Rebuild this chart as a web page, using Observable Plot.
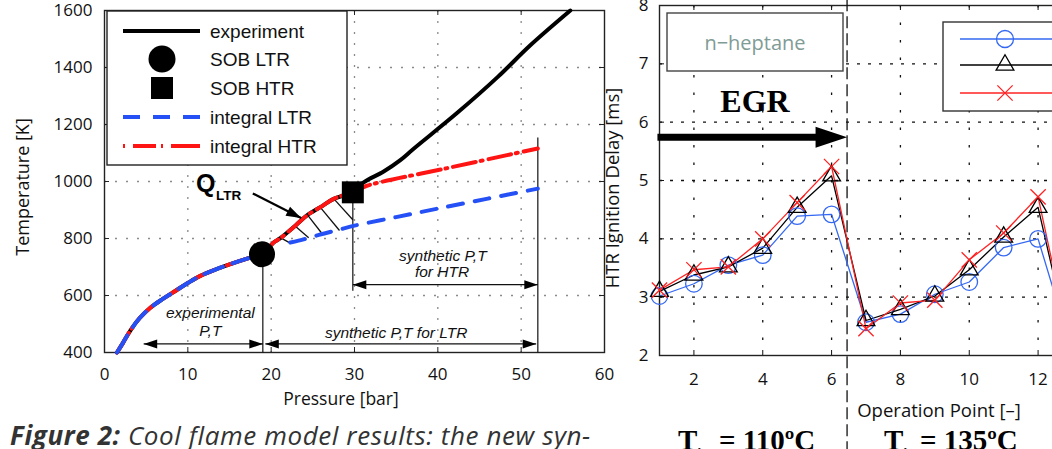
<!DOCTYPE html>
<html><head><meta charset="utf-8">
<script src="https://cdn.jsdelivr.net/npm/d3@7"></script>
<script src="https://cdn.jsdelivr.net/npm/@observablehq/plot@0.6"></script>
<style>
html,body{margin:0;padding:0;background:#fff;}
#root{position:relative;width:1052px;height:449px;overflow:hidden;background:#fff;}
.layer{position:absolute;top:0;}
</style></head>
<body><div id="root"></div>
<script>
// ---------------- LEFT CHART DATA (Pressure [bar] vs Temperature [K]) ----------------
const expPressure    = [1.5, 2.2, 3.1, 4.2, 5.5, 7.0, 8.5, 10.0, 11.5, 13.3, 15.1, 17.3, 18.9, 20.3, 21.1, 22.9, 24.3, 25.9, 27.5, 29.7, 31.1, 33.5, 35.5, 37.1, 42.3, 47.2, 51.1, 55.9];
const expTemperature = [400, 433, 477, 520, 557, 588, 616, 644, 669, 691, 710, 731, 745, 786, 801, 845, 881, 910, 939, 962, 997, 1035, 1075, 1115, 1240, 1367, 1478, 1600];
const ltrEarlyPressure    = [1.5, 2.2, 3.1, 4.2, 5.5, 7.0, 8.5, 10.0, 11.5, 13.3, 15.1, 17.3, 18.9];
const ltrEarlyTemperature = [400, 433, 477, 520, 557, 588, 616, 644, 669, 691, 710, 731, 745];
const ltrBranchPressure    = [22.3, 24.0, 26.0, 28.0, 30.0, 35.0, 40.0, 46.0, 52.0];
const ltrBranchTemperature = [786, 798, 815, 830, 845, 875, 905, 940, 975];
const htrPressure    = [1.5, 2.2, 3.1, 4.2, 5.5, 7.0, 8.5, 10.0, 11.5, 13.3, 15.1, 17.3, 18.9, 20.3, 21.1, 22.9, 24.3, 25.9, 27.5, 29.7, 31.5, 41.0, 52.0];
const htrTemperature = [400, 433, 477, 520, 557, 588, 616, 644, 669, 691, 710, 731, 745, 786, 801, 845, 881, 910, 939, 962, 985, 1046, 1116];
const sobLtr = {p: 18.9, t: 745};
const sobHtr = {p: 29.8, t: 962};
// hatch lines (Q_LTR area)
const hatchP1 = [21.1, 22.8, 24.4, 25.9, 27.5];
const hatchT1 = [803, 846, 881, 909, 940];
const hatchP2 = [22.4, 24.5, 26.0, 28.2, 29.8];
const hatchT2 = [782, 803, 821, 828, 866];
// dimension lines
const vertP  = [19.0, 29.8, 52.0];
const vertT1 = [400, 617, 400];
const vertT2 = [745, 962, 1154];
const dimP1 = [4.7, 19.3, 29.8];
const dimP2 = [19.0, 51.8, 52.0];
const dimT  = [430, 430, 638];
const qArrowP = [17.8, 23.6];
const qArrowT = [958, 872];
const annText = ["experimental", "P,T", "synthetic P,T for LTR", "synthetic P,T", "for HTR"];
const annP    = [12.7, 12.7, 35.0, 40.6, 40.5];
const annT    = [537, 477, 470, 740, 681];
const xTicksLeft = [0, 10, 20, 30, 40, 50, 60];
const yTicksLeft = [400, 600, 800, 1000, 1200, 1400, 1600];
const legendLeftLabels = ["experiment", "SOB LTR", "SOB HTR", "integral LTR", "integral HTR"];

// ---------------- RIGHT CHART DATA (HTR ignition delay) ----------------
const opPoint   = [1, 2, 3, 4, 5, 6, 7, 8, 9, 10, 11, 12, 13];
const delayBlue  = [3.02, 3.23, 3.55, 3.72, 4.39, 4.42, 2.57, 2.71, 3.05, 3.26, 3.85, 4.00, 2.04];
const delayBlack = [3.10, 3.38, 3.52, 3.84, 4.54, 5.08, 2.60, 2.79, 3.02, 3.47, 4.03, 4.54, 1.97];
const delayRed   = [3.12, 3.47, 3.52, 4.00, 4.62, 5.24, 2.46, 2.90, 2.95, 3.64, 4.10, 4.72, 1.97];
const xTicksRight = [2, 4, 6, 8, 10, 12];
const yTicksRight = [2, 3, 4, 5, 6, 7, 8];
const separatorX = [6.45];
const egrArrowX = [0.94, 6.0];
const egrArrowY = 5.74;
const egrHeadX = 6.45;

// ---------------- STYLE / LAYOUT ----------------
const BLUE_L = "#2450f5", RED_L = "#ff1414";
const BLUE_R = "#3468f2", RED_R = "#ff2222";
const L = {w: 620, h: 449, ml: 104, mr: 16, mt: 10, mb: 97};
const R = {left: 600, w: 492, h: 449, ml: 59, mr: 20, mt: 5, mb: 94};
const LfW = L.w - L.ml - L.mr, LfH = L.h - L.mt - L.mb;
const RfW = R.w - R.ml - R.mr, RfH = R.h - R.mt - R.mb;
const pxPerBar = LfW / 60, pxPerK = LfH / 1200;

function headSymbol(angle) {
  const a = angle * Math.PI / 180, c = Math.cos(a), s = Math.sin(a);
  return {draw(ctx, size) {
    const r = Math.sqrt(size / Math.PI);
    const pts = [[0, 0], [-1.5 * r, -0.5 * r], [-1.5 * r, 0.5 * r]];
    pts.forEach(([x, y], i) => { const X = x * c - y * s, Y = x * s + y * c; i ? ctx.lineTo(X, Y) : ctx.moveTo(X, Y); });
    ctx.closePath();
  }};
}
const zip = (xs, ys) => xs.map((x, i) => ({x, y: ys[i]}));

const expData = zip(expPressure, expTemperature);
const ltrEarly = zip(ltrEarlyPressure, ltrEarlyTemperature);
const ltrBranch = zip(ltrBranchPressure, ltrBranchTemperature);
const htrData = zip(htrPressure, htrTemperature);
const hatch = hatchP1.map((p, i) => ({x1: p, y1: hatchT1[i], x2: hatchP2[i], y2: hatchT2[i]}));
const verts = vertP.map((p, i) => ({x: p, y1: vertT1[i], y2: vertT2[i]}));
const dims = dimP1.map((p, i) => ({x1: p, x2: dimP2[i], y: dimT[i]}));
const rightHeads = dimP2.map((p, i) => ({x: p, y: dimT[i]}));
const leftHeads = dimP1.map((p, i) => ({x: p, y: dimT[i]}));
const qAngle = Math.atan2(-(qArrowT[1] - qArrowT[0]) * pxPerK, (qArrowP[1] - qArrowP[0]) * pxPerBar) * 180 / Math.PI;
const ann = annText.map((t, i) => ({text: t, x: annP[i], y: annT[i]}));

const baseStyle = {background: "transparent", fontFamily: "'Open Sans'", fontSize: "17px", color: "#111", overflow: "visible", maxWidth: "none"};

const leftPlot = Plot.plot({
  width: L.w, height: L.h, marginLeft: L.ml, marginRight: L.mr, marginTop: L.mt, marginBottom: L.mb,
  style: baseStyle,
  x: {domain: [0, 60], ticks: xTicksLeft, tickSize: 0, tickPadding: 15, label: null, tickFormat: d => String(d)},
  y: {domain: [400, 1600], ticks: yTicksLeft, tickSize: 0, tickPadding: 12, label: null, tickFormat: d => String(d)},
  marks: [
    Plot.ruleX(xTicksLeft.slice(1, -1), {stroke: "#8a8a8a", strokeDasharray: "2,9", strokeWidth: 1.3}),
    Plot.ruleY(yTicksLeft.slice(1, -1), {stroke: "#8a8a8a", strokeDasharray: "2,9", strokeWidth: 1.3}),
    Plot.tickX(xTicksLeft, {insetTop: LfH - 5, stroke: "#222"}),
    Plot.tickX(xTicksLeft, {insetBottom: LfH - 5, stroke: "#222"}),
    Plot.tickY(yTicksLeft, {insetRight: LfW - 5, stroke: "#222"}),
    Plot.tickY(yTicksLeft, {insetLeft: LfW - 5, stroke: "#222"}),
    Plot.frame({stroke: "#222", strokeWidth: 1.4}),
    Plot.link(verts, {x1: "x", x2: "x", y1: "y1", y2: "y2", stroke: "#111", strokeWidth: 1.2}),
    Plot.link(dims, {x1: "x1", x2: "x2", y1: "y", y2: "y", stroke: "#111", strokeWidth: 1.2}),
    Plot.dot(rightHeads, {x: "x", y: "y", r: 9, symbol: headSymbol(0), fill: "#000", stroke: "none"}),
    Plot.dot(leftHeads, {x: "x", y: "y", r: 9, symbol: headSymbol(180), fill: "#000", stroke: "none"}),
    Plot.link(hatch, {x1: "x1", y1: "y1", x2: "x2", y2: "y2", stroke: "#111", strokeWidth: 1.3}),
    Plot.line(expData, {x: "x", y: "y", stroke: "#000", strokeWidth: 4, curve: "catmull-rom"}),
    Plot.line(htrData, {x: "x", y: "y", stroke: RED_L, strokeWidth: 4, strokeDasharray: "23,5,2,6", curve: "catmull-rom"}),
    Plot.line(ltrEarly, {x: "x", y: "y", stroke: BLUE_L, strokeWidth: 4, strokeDasharray: "20,10", curve: "catmull-rom"}),
    Plot.line(ltrBranch, {x: "x", y: "y", stroke: BLUE_L, strokeWidth: 4, strokeDasharray: "15,12", curve: "catmull-rom"}),
    Plot.link([{}], {x1: qArrowP[0], y1: qArrowT[0], x2: qArrowP[1], y2: qArrowT[1], stroke: "#000", strokeWidth: 2.2}),
    Plot.dot([{}], {x: qArrowP[1], y: qArrowT[1], r: 10, symbol: headSymbol(qAngle), fill: "#000", stroke: "none"}),
    Plot.dot([sobLtr], {x: "p", y: "t", r: 13, fill: "#000"}),
    Plot.dot([sobHtr], {x: "p", y: "t", r: 12.4, symbol: "square", fill: "#000"}),
    Plot.text(ann, {x: "x", y: "y", text: "text", fontStyle: "italic", fontFamily: "'Liberation Sans'", fontSize: 15.5, fill: "#111"})
  ]
});

const blueData = zip(opPoint, delayBlue), blackData = zip(opPoint, delayBlack), redData = zip(opPoint, delayRed);
const rightPlot = Plot.plot({
  width: R.w, height: R.h, marginLeft: R.ml, marginRight: R.mr, marginTop: R.mt, marginBottom: R.mb,
  style: baseStyle,
  x: {domain: [1, 13], ticks: xTicksRight, tickSize: 0, tickPadding: 17, label: null, tickFormat: d => String(d)},
  y: {domain: [2, 8], ticks: yTicksRight, tickSize: 0, tickPadding: 11, label: null, tickFormat: d => String(d)},
  marks: [
    Plot.ruleX(xTicksRight, {stroke: "#111", strokeDasharray: "2.5,15", strokeWidth: 1.3}),
    Plot.ruleY(yTicksRight.slice(1, -1), {stroke: "#111", strokeDasharray: "3,8", strokeWidth: 1.3}),
    Plot.tickX(xTicksRight, {insetTop: RfH - 5, stroke: "#111"}),
    Plot.tickX(xTicksRight, {insetBottom: RfH - 5, stroke: "#111"}),
    Plot.tickY(yTicksRight, {insetRight: RfW - 5, stroke: "#111"}),
    Plot.frame({stroke: "#222", strokeWidth: 1.4}),
    Plot.ruleX(separatorX, {y1: 8.1, y2: 0.3, stroke: "#111", strokeWidth: 1.3, strokeDasharray: "12,5"}),
    Plot.link([{}], {x1: egrArrowX[0], x2: egrArrowX[1], y1: egrArrowY, y2: egrArrowY, stroke: "#000", strokeWidth: 7}),
    Plot.dot([{}], {x: egrHeadX, y: egrArrowY, r: 21, symbol: headSymbol(0), fill: "#000", stroke: "none"}),
    Plot.line(blueData, {x: "x", y: "y", stroke: BLUE_R, strokeWidth: 1.3}),
    Plot.line(blackData, {x: "x", y: "y", stroke: "#000", strokeWidth: 1.3}),
    Plot.line(redData, {x: "x", y: "y", stroke: RED_R, strokeWidth: 1.3}),
    Plot.dot(blueData, {x: "x", y: "y", r: 8.3, symbol: "circle", stroke: BLUE_R, fill: "none", strokeWidth: 1.3}),
    Plot.dot(blackData, {x: "x", y: "y", r: 6.6, symbol: "triangle", stroke: "#000", fill: "none", strokeWidth: 1.3}),
    Plot.dot(redData, {x: "x", y: "y", r: 7, symbol: "times", stroke: RED_R, fill: "none", strokeWidth: 1.3})
  ]
});

const root = document.getElementById("root");
const lDiv = document.createElement("div"); lDiv.className = "layer"; lDiv.style.left = "0px"; lDiv.appendChild(leftPlot); root.appendChild(lDiv);
const rDiv = document.createElement("div"); rDiv.className = "layer"; rDiv.style.left = R.left + "px"; rDiv.appendChild(rightPlot); root.appendChild(rDiv);

// ---------------- OVERLAY: labels, legends, caption ----------------
const ov = d3.select(root).append("svg").attr("class", "layer").style("left", "0px")
  .attr("width", 1052).attr("height", 449);
const SANS = "'Open Sans'", ARIAL = "'Liberation Sans'", SERIF = "'Liberation Serif'";

// axis labels
ov.append("text").attr("transform", "translate(29,187) rotate(-90)").attr("text-anchor", "middle")
  .attr("font-family", SANS).attr("font-size", 18).attr("fill", "#111").text("Temperature [K]");
ov.append("text").attr("x", 341).attr("y", 405).attr("text-anchor", "middle")
  .attr("font-family", SANS).attr("font-size", 17.5).attr("fill", "#111").text("Pressure [bar]");
ov.append("text").attr("transform", "translate(619,188) rotate(-90)").attr("text-anchor", "middle")
  .attr("font-family", SANS).attr("font-size", 18.5).attr("fill", "#111").text("HTR Ignition Delay [ms]");
ov.append("text").attr("x", 939).attr("y", 417).attr("text-anchor", "middle")
  .attr("font-family", SANS).attr("font-size", 18.5).attr("fill", "#111").text("Operation Point [–]");

// Q_LTR label
ov.append("text").attr("x", 196).attr("y", 192).attr("font-family", ARIAL).attr("font-weight", "bold").attr("font-size", 25).attr("fill", "#000").text("Q");
ov.append("text").attr("x", 216).attr("y", 200).attr("font-family", ARIAL).attr("font-weight", "bold").attr("font-size", 13.5).attr("fill", "#000").text("LTR");

// left legend
const lg = ov.append("g");
lg.append("rect").attr("x", 107).attr("y", 11).attr("width", 240).attr("height", 154).attr("fill", "#fff").attr("stroke", "#222").attr("stroke-width", 1.4);
const legY = [31, 59, 88, 117, 146];
lg.append("line").attr("x1", 123).attr("x2", 200).attr("y1", legY[0]).attr("y2", legY[0]).attr("stroke", "#000").attr("stroke-width", 4);
lg.append("circle").attr("cx", 162).attr("cy", legY[1]).attr("r", 13.5).attr("fill", "#000");
lg.append("rect").attr("x", 151).attr("y", legY[2] - 11).attr("width", 22).attr("height", 22).attr("fill", "#000");
lg.append("line").attr("x1", 123).attr("x2", 200).attr("y1", legY[3]).attr("y2", legY[3]).attr("stroke", BLUE_L).attr("stroke-width", 4).attr("stroke-dasharray", "17,13");
lg.append("line").attr("x1", 123).attr("x2", 200).attr("y1", legY[4]).attr("y2", legY[4]).attr("stroke", RED_L).attr("stroke-width", 4).attr("stroke-dasharray", "2,8,23,5,2,8,30");
legendLeftLabels.forEach((t, i) => lg.append("text").attr("x", 210).attr("y", legY[i] + 7).attr("font-family", ARIAL).attr("font-size", 19).attr("fill", "#111").text(t));

// n-heptane box + EGR
ov.append("rect").attr("x", 667).attr("y", 13).attr("width", 176).attr("height", 58).attr("fill", "#fff").attr("stroke", "#444").attr("stroke-width", 1.4);
ov.append("text").attr("x", 755).attr("y", 50).attr("text-anchor", "middle").attr("font-family", SANS).attr("font-size", 20).attr("fill", "#7f9c96").text("n−heptane");
ov.append("text").attr("x", 755).attr("y", 112).attr("text-anchor", "middle").attr("font-family", SERIF).attr("font-weight", "bold").attr("font-size", 32).attr("fill", "#000").text("EGR");

// right legend
const rg = ov.append("g");
rg.append("rect").attr("x", 943).attr("y", 22).attr("width", 200).attr("height", 89).attr("fill", "#fff").attr("stroke", "#333").attr("stroke-width", 1.4);
const rlY = [39, 65, 93], rlC = [BLUE_R, "#000", RED_R];
rlY.forEach((y, i) => rg.append("line").attr("x1", 960).attr("x2", 1060).attr("y1", y).attr("y2", y).attr("stroke", rlC[i]).attr("stroke-width", 1.3));
rg.append("circle").attr("cx", 1005).attr("cy", rlY[0]).attr("r", 8.5).attr("fill", "none").attr("stroke", BLUE_R).attr("stroke-width", 1.3);
rg.append("path").attr("transform", `translate(1005,${rlY[1]})`).attr("d", d3.symbol(d3.symbolTriangle, 6.6 * 6.6 * Math.PI)()).attr("fill", "none").attr("stroke", "#000").attr("stroke-width", 1.3);
rg.append("path").attr("transform", `translate(1005,${rlY[2]})`).attr("d", d3.symbol(d3.symbolTimes, 7 * 7 * Math.PI)()).attr("fill", "none").attr("stroke", RED_R).attr("stroke-width", 1.3);

// temperature labels
function tLabel(xT, xEq, txt) {
  ov.append("text").attr("x", xT).attr("y", 450).attr("font-family", SERIF).attr("font-weight", "bold").attr("font-size", 29).attr("fill", "#000").text("T");
  ov.append("text").attr("x", xT + 19).attr("y", 460).attr("font-family", SERIF).attr("font-weight", "bold").attr("font-size", 17).attr("fill", "#000").text("in");
  ov.append("text").attr("x", xEq).attr("y", 450).attr("font-family", SERIF).attr("font-weight", "bold").attr("font-size", 29).attr("fill", "#000").text(txt);
}
tLabel(678, 719, "= 110ºC");
tLabel(884, 920, "= 135ºC");

// caption
const cap = ov.append("text").attr("x", 10).attr("y", 445).attr("font-family", SANS).attr("font-style", "italic").attr("font-size", 26).attr("letter-spacing", 0.6).attr("fill", "#333");
cap.append("tspan").attr("font-weight", "bold").text("Figure 2:");
cap.append("tspan").text(" Cool flame model results: the new syn-");
</script>
</body></html>
